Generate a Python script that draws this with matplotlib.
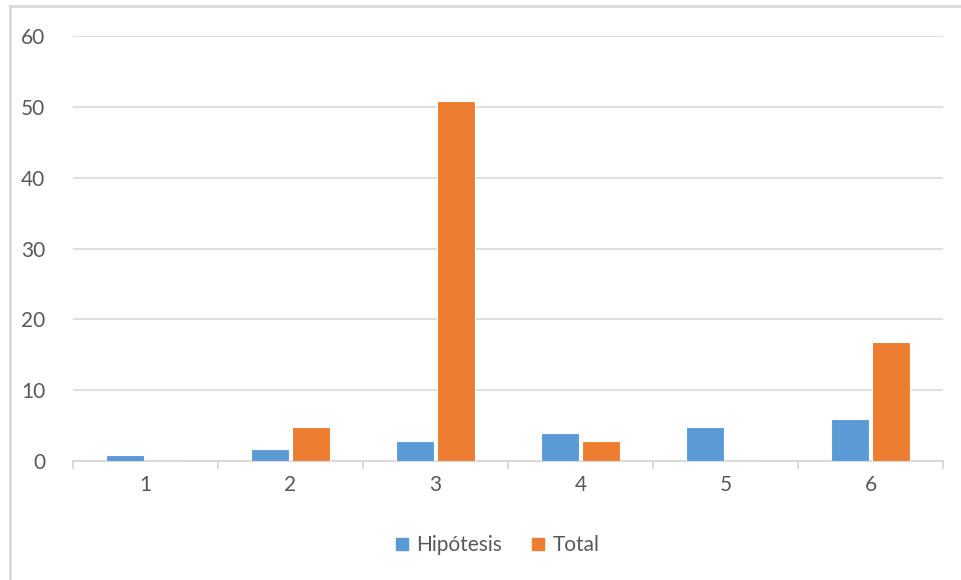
import numpy as np
import matplotlib.pyplot as plt
from matplotlib.lines import Line2D

categories = ['1', '2', '3', '4', '5', '6']
hipotesis = [0.8, 1.7, 2.8, 3.9, 4.8, 5.9]
total = [0, 4.8, 50.8, 2.8, 0, 16.8]

BLUE = '#5B9BD5'
ORANGE = '#ED7D31'
GRID = '#D9D9D9'
TEXT = '#595959'

plt.rcParams['font.family'] = ['Lato', 'DejaVu Sans']

fig = plt.figure(figsize=(9.62, 5.8), dpi=100)
ax = fig.add_axes([0.0759, 0.2052, 0.9043, 0.7327])

x = np.arange(len(categories))
w = 0.262
gap = 0.01
ax.bar(x - w / 2 - gap, hipotesis, w, color=BLUE, edgecolor='white', linewidth=0.8,
       label='Hipótesis', zorder=3)
ax.bar(x + w / 2 + gap, total, w, color=ORANGE, edgecolor='white', linewidth=0.8,
       label='Total', zorder=3)

ax.set_xlim(-0.5, len(categories) - 0.5)
ax.set_ylim(0, 60)
ax.set_yticks(range(0, 61, 10))
ax.grid(axis='y', color=GRID, linewidth=1.2, zorder=0)

for s in ['top', 'right', 'left']:
    ax.spines[s].set_visible(False)
ax.spines['bottom'].set_color(GRID)
ax.spines['bottom'].set_linewidth(1.5)

ax.set_xticks(x)
ax.set_xticklabels(categories)
ax.set_xticks(np.arange(-0.5, len(categories)), minor=True)
ax.tick_params(axis='x', which='major', length=0, pad=10, labelsize=15, labelcolor=TEXT)
ax.tick_params(axis='x', which='minor', length=6, width=1.5, color=GRID)
ax.tick_params(axis='y', length=0, pad=20, labelsize=15, labelcolor=TEXT)

handles = [Line2D([], [], marker='s', linestyle='', markersize=9, color=BLUE),
           Line2D([], [], marker='s', linestyle='', markersize=9, color=ORANGE)]
fig.legend(handles, ['Hipótesis', 'Total'], loc='center', bbox_to_anchor=(0.515, 0.06),
           ncol=2, frameon=False, fontsize=15, labelcolor=TEXT,
           handlelength=1.0, handletextpad=0.2, columnspacing=1.2)

# chart frame on left and top
fig.add_artist(Line2D([0.0105, 0.0105], [0, 0.989], color=GRID, linewidth=2,
                      transform=fig.transFigure))
fig.add_artist(Line2D([0.0105, 1.0], [0.989, 0.989], color=GRID, linewidth=2,
                      transform=fig.transFigure))

fig.savefig('out.png', dpi=100)
